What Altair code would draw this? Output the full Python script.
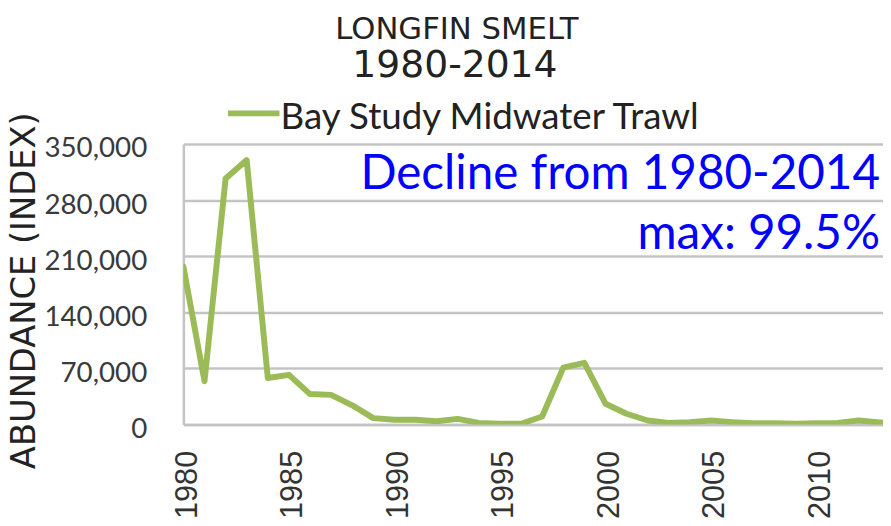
import altair as alt
import pandas as pd

years = list(range(1980, 2015))
abundance = [197000, 54000, 307000, 330000, 58000, 62000, 38000, 37000, 24000, 8000,
             6000, 6000, 4000, 7000, 2000, 1000, 1000, 10000, 71000, 77000,
             26000, 13500, 5000, 2000, 3000, 5000, 3000, 1500, 1500, 1000,
             1500, 2000, 5000, 2500, 2000]
series_name = "Bay Study Midwater Trawl"
title_line1 = "LONGFIN SMELT"
title_line2 = "1980-2014"
y_title = "ABUNDANCE (INDEX)"
note_line1 = "Decline from 1980-2014"
note_line2 = "max: 99.5%"
y_ticks = [0, 70000, 140000, 210000, 280000, 350000]
x_ticks = [1980, 1985, 1990, 1995, 2000, 2005, 2010]

df = pd.DataFrame({"year": years, "abundance": abundance})

GREEN = "#9BBB59"
GRID = "#c4c4c4"

x_enc = alt.X("year:Q",
              scale=alt.Scale(domain=[1980, 2013.15], nice=False, zero=False),
              axis=alt.Axis(values=x_ticks, format="d", labelAngle=270, title=None,
                            grid=False, ticks=False, tickSize=0, domain=True,
                            domainColor=GRID, domainWidth=2.5,
                            labelFont="Liberation Sans", labelFontSize=31,
                            labelColor="#333333", labelPadding=26, labelOffset=4))
y_enc = alt.Y("abundance:Q",
              scale=alt.Scale(domain=[0, 350000], nice=False),
              axis=alt.Axis(values=y_ticks, format=",d", title=None,
                            grid=True, gridColor=GRID, gridWidth=2.5,
                            ticks=False, tickSize=0, domain=True,
                            domainColor=GRID, domainWidth=2.5,
                            labelFont="Lato", labelFontSize=28, labelColor="#3a3a3a",
                            labelPadding=37, labelOffset=5))

line = alt.Chart(df).mark_line(color=GREEN, strokeWidth=6, clip=True,
                               strokeJoin="round", strokeCap="round").encode(x=x_enc, y=y_enc)


def txt(s, x, y, size, font, color="#222222", align="center", angle=0, baseline="alphabetic"):
    d = pd.DataFrame({"t": [s]})
    return alt.Chart(d).mark_text(font=font, fontSize=size, color=color, align=align,
                                  baseline=baseline, angle=angle).encode(
        text="t:N", x=alt.value(x), y=alt.value(y))


legend_line = alt.Chart(pd.DataFrame({"s": [series_name]})).mark_rule(
    color=GREEN, strokeWidth=6).encode(x=alt.value(45), x2=alt.value(97), y=alt.value(-31))

layers = [
    line,
    legend_line,
    txt(series_name, 98, -15, 37, "Lato", "#222222", align="left"),
    txt(title_line1, 276, -106, 31, "DejaVu Sans", "#222222"),
    txt(title_line2, 274, -68, 38, "DejaVu Sans", "#222222"),
    txt(y_title, -160, 148, 34, "DejaVu Sans", "#222222", angle=270, baseline="middle"),
    txt(note_line1, 703, 45, 48, "Lato", "#0000FF", align="right"),
    txt(note_line2, 703, 106, 48, "Lato", "#0000FF", align="right"),
]

chart = alt.layer(*layers).properties(
    width=706, height=283,
    autosize=alt.AutoSizeParams(type="none"),
    padding={"left": 177, "top": 135, "right": 0, "bottom": 92},
    background="white",
).configure_view(stroke=None)

chart.save("out.html", embed_options={"renderer": "svg", "actions": False})
